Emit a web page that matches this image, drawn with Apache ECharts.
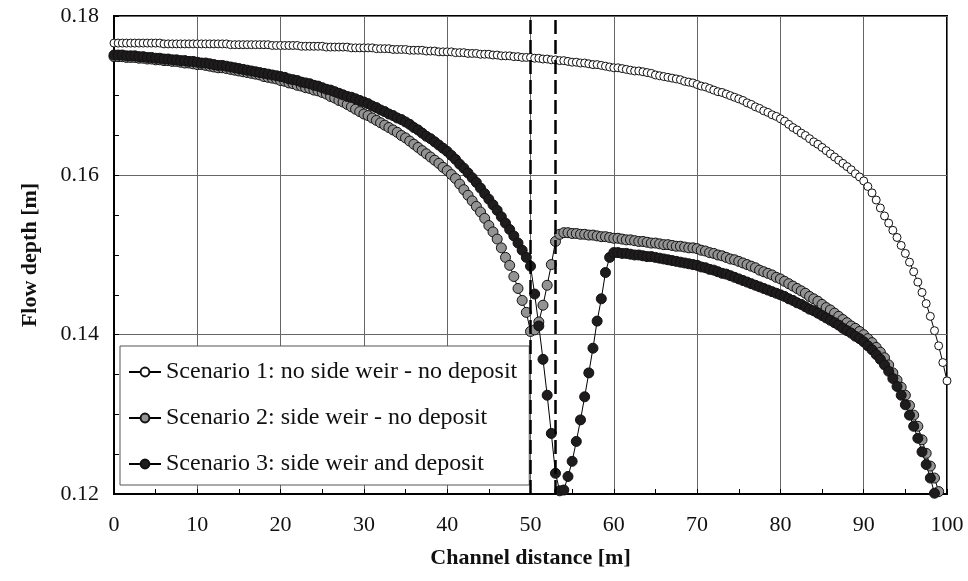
<!DOCTYPE html>
<html>
<head>
<meta charset="utf-8">
<title>Flow depth along the channel</title>
<script src="https://cdn.jsdelivr.net/npm/echarts@6.0.0/dist/echarts.min.js"></script>
<style>
  html, body { margin: 0; padding: 0; background: #fff; }
  #chart { width: 968px; height: 581px; }
</style>
</head>
<body>
<div id="chart"></div>
<script>
// sampling step along the channel [m], every series starts at 0 m
var step = 0.5;

var seriesNames = [
  'Scenario 1: no side weir - no deposit',
  'Scenario 2: side weir - no deposit',
  'Scenario 3: side weir and deposit'
];

// side weir limits [m]
var weirEdges = [50, 53];

var xTicks = [0, 10, 20, 30, 40, 50, 60, 70, 80, 90, 100];
var yTicks = [0.12, 0.14, 0.16, 0.18];

// scenario 1, 0 .. 100 m
var depthNoWeir = [
  0.1766,0.1766,0.1766,0.1766,0.1766,0.1766,0.1766,0.1766,0.1766,0.1766,0.1766,0.1766,0.1765,0.1765,0.1765,0.1765,0.1765,0.1765,0.1765,0.1765,
  0.1765,0.1765,0.1765,0.1765,0.1765,0.1765,0.1765,0.1765,0.1764,0.1764,0.1764,0.1764,0.1764,0.1764,0.1764,0.1764,0.1764,0.1764,0.1763,0.1763,
  0.1763,0.1763,0.1763,0.1763,0.1763,0.1762,0.1762,0.1762,0.1762,0.1762,0.1762,0.1761,0.1761,0.1761,0.1761,0.1761,0.1761,0.1760,0.1760,0.1760,
  0.1760,0.1760,0.1760,0.1759,0.1759,0.1759,0.1759,0.1758,0.1758,0.1758,0.1758,0.1757,0.1757,0.1757,0.1757,0.1756,0.1756,0.1756,0.1755,0.1755,
  0.1755,0.1755,0.1754,0.1754,0.1754,0.1753,0.1753,0.1753,0.1752,0.1752,0.1752,0.1751,0.1751,0.1750,0.1750,0.1750,0.1749,0.1749,0.1748,0.1748,
  0.1748,0.1747,0.1747,0.1746,0.1746,0.1745,0.1745,0.1744,0.1744,0.1743,0.1742,0.1742,0.1741,0.1741,0.1740,0.1739,0.1739,0.1738,0.1737,0.1736,
  0.1735,0.1735,0.1734,0.1733,0.1732,0.1731,0.1731,0.1730,0.1729,0.1728,0.1726,0.1725,0.1724,0.1723,0.1722,0.1721,0.1720,0.1718,0.1717,0.1716,
  0.1714,0.1712,0.1711,0.1709,0.1707,0.1705,0.1704,0.1702,0.1700,0.1698,0.1696,0.1694,0.1691,0.1689,0.1686,0.1684,0.1681,0.1679,0.1676,0.1674,
  0.1671,0.1668,0.1664,0.1660,0.1657,0.1653,0.1650,0.1646,0.1642,0.1639,0.1635,0.1631,0.1627,0.1623,0.1619,0.1615,0.1611,0.1607,0.1602,0.1598,
  0.1593,0.1586,0.1578,0.1569,0.1559,0.1549,0.1540,0.1531,0.1522,0.1512,0.1502,0.1491,0.1479,0.1466,0.1453,0.1439,0.1423,0.1405,0.1386,0.1365,
  0.1342
];

// scenario 2, 0 .. 99 m
var depthWeir = [
  0.1749,0.1749,0.1749,0.1748,0.1748,0.1748,0.1747,0.1747,0.1746,0.1746,0.1745,0.1745,0.1744,0.1744,0.1743,0.1743,0.1742,0.1741,0.1741,0.1740,
  0.1739,0.1739,0.1738,0.1737,0.1736,0.1735,0.1735,0.1734,0.1733,0.1732,0.1731,0.1730,0.1729,0.1728,0.1727,0.1726,0.1724,0.1723,0.1722,0.1721,
  0.1719,0.1718,0.1716,0.1715,0.1713,0.1712,0.1710,0.1709,0.1707,0.1706,0.1704,0.1702,0.1699,0.1697,0.1694,0.1692,0.1689,0.1686,0.1683,0.1680,
  0.1677,0.1675,0.1672,0.1669,0.1666,0.1663,0.1660,0.1657,0.1654,0.1650,0.1647,0.1643,0.1639,0.1635,0.1631,0.1627,0.1623,0.1619,0.1615,0.1610,
  0.1606,0.1601,0.1596,0.1589,0.1582,0.1575,0.1568,0.1561,0.1554,0.1546,0.1537,0.1529,0.1520,0.1509,0.1497,0.1487,0.1473,0.1458,0.1443,0.1428,
  0.1404,0.1406,0.1416,0.1437,0.1462,0.1488,0.1517,0.1526,0.1528,0.1528,0.1527,0.1527,0.1526,0.1526,0.1525,0.1525,0.1524,0.1523,0.1523,0.1522,
  0.1521,0.1521,0.1520,0.1519,0.1519,0.1518,0.1517,0.1517,0.1516,0.1515,0.1515,0.1514,0.1513,0.1513,0.1512,0.1511,0.1511,0.1510,0.1509,0.1509,
  0.1508,0.1506,0.1505,0.1503,0.1502,0.1500,0.1499,0.1497,0.1495,0.1494,0.1492,0.1490,0.1488,0.1486,0.1484,0.1481,0.1479,0.1477,0.1475,0.1472,
  0.1470,0.1467,0.1464,0.1461,0.1458,0.1455,0.1452,0.1448,0.1445,0.1442,0.1438,0.1434,0.1431,0.1427,0.1423,0.1419,0.1415,0.1411,0.1408,0.1404,
  0.1400,0.1395,0.1390,0.1384,0.1378,0.1371,0.1362,0.1352,0.1343,0.1334,0.1324,0.1311,0.1299,0.1285,0.1268,0.1251,0.1235,0.1220,0.1203
];

// scenario 3, 0 .. 98.5 m
var depthWeirDeposit = [
  0.1751,0.1751,0.1751,0.1750,0.1750,0.1750,0.1749,0.1749,0.1748,0.1748,0.1747,0.1747,0.1746,0.1746,0.1745,0.1745,0.1744,0.1744,0.1743,0.1743,
  0.1742,0.1741,0.1741,0.1740,0.1739,0.1738,0.1738,0.1737,0.1736,0.1735,0.1734,0.1733,0.1732,0.1731,0.1730,0.1729,0.1728,0.1727,0.1726,0.1725,
  0.1724,0.1723,0.1721,0.1720,0.1719,0.1717,0.1716,0.1715,0.1713,0.1712,0.1710,0.1708,0.1707,0.1705,0.1703,0.1701,0.1699,0.1698,0.1696,0.1694,
  0.1692,0.1690,0.1687,0.1685,0.1682,0.1680,0.1677,0.1675,0.1672,0.1670,0.1667,0.1664,0.1660,0.1657,0.1653,0.1649,0.1646,0.1642,0.1638,0.1634,
  0.1630,0.1625,0.1620,0.1614,0.1609,0.1603,0.1597,0.1591,0.1584,0.1577,0.1570,0.1563,0.1556,0.1548,0.1540,0.1532,0.1524,0.1515,0.1506,0.1497,
  0.1486,0.1451,0.1411,0.1369,0.1324,0.1276,0.1226,0.1204,0.1205,0.1222,0.1241,0.1266,0.1293,0.1322,0.1352,0.1383,0.1417,0.1445,0.1478,0.1497,
  0.1503,0.1503,0.1502,0.1502,0.1501,0.1500,0.1500,0.1499,0.1498,0.1498,0.1497,0.1496,0.1495,0.1494,0.1493,0.1492,0.1491,0.1490,0.1489,0.1488,
  0.1487,0.1485,0.1484,0.1482,0.1481,0.1479,0.1477,0.1476,0.1474,0.1472,0.1470,0.1468,0.1466,0.1464,0.1462,0.1460,0.1458,0.1456,0.1454,0.1452,
  0.1450,0.1448,0.1445,0.1443,0.1440,0.1438,0.1435,0.1432,0.1430,0.1427,0.1424,0.1421,0.1418,0.1415,0.1412,0.1408,0.1405,0.1402,0.1398,0.1395,
  0.1391,0.1386,0.1381,0.1375,0.1369,0.1362,0.1354,0.1345,0.1335,0.1324,0.1312,0.1299,0.1285,0.1270,0.1253,0.1237,0.1220,0.1201
];

var serif = 'Liberation Serif';

function withDistance(values) {
  return values.map(function (v, i) { return [i * step, v]; });
}

function scenario(name, values, fill, size) {
  return {
    name: name,
    type: 'line',
    data: withDistance(values),
    symbol: 'circle',
    symbolSize: size,
    showAllSymbol: true,
    lineStyle: { color: '#000', width: 1 },
    itemStyle: { color: fill, borderColor: '#111', borderWidth: 1 },
    emphasis: { disabled: true }
  };
}

var chart = echarts.init(document.getElementById('chart'));

var series = [
  scenario(seriesNames[0], depthNoWeir, '#fff', 8),
  scenario(seriesNames[1], depthWeir, '#939393', 10),
  scenario(seriesNames[2], depthWeirDeposit, '#1f1c1d', 10)
];

// dashed lines marking the side weir
series[0].markLine = {
  silent: true,
  symbol: 'none',
  label: { show: false },
  lineStyle: { color: '#000', width: 2.5, type: [14, 6] },
  data: weirEdges.map(function (x) { return { xAxis: x }; })
};

var option = {
  animation: false,
  backgroundColor: '#fff',
  grid: {
    left: 114,
    right: 21,
    top: 16,
    bottom: 87,
    show: true,
    borderColor: '#000',
    borderWidth: 2
  },
  legend: {
    data: seriesNames,
    orient: 'vertical',
    left: 120,
    top: 346,
    selectedMode: false,
    backgroundColor: '#fff',
    borderColor: '#555',
    borderWidth: 1,
    borderRadius: 0,
    padding: [14, 12, 9, 8],
    itemGap: 22,
    itemWidth: 32,
    itemHeight: 11,
    textStyle: { fontFamily: serif, fontSize: 24, color: '#111' }
  },
  xAxis: {
    type: 'value',
    min: xTicks[0],
    max: xTicks[xTicks.length - 1],
    interval: 10,
    name: 'Channel distance [m]',
    nameLocation: 'middle',
    nameGap: 53,
    nameTextStyle: { fontFamily: serif, fontSize: 22, fontWeight: 'bold', color: '#111' },
    axisLine: { show: true, lineStyle: { color: '#000', width: 2 } },
    axisTick: { show: true, inside: true, length: 5, lineStyle: { color: '#000' } },
    minorTick: { show: true, splitNumber: 2, length: 5, lineStyle: { color: '#000' } },
    axisLabel: { fontFamily: serif, fontSize: 22, color: '#111', margin: 20 },
    splitLine: { show: true, lineStyle: { color: '#666', width: 1 } }
  },
  yAxis: {
    type: 'value',
    min: yTicks[0],
    max: yTicks[yTicks.length - 1],
    interval: 0.02,
    name: 'Flow depth [m]',
    nameLocation: 'middle',
    nameGap: 73,
    nameTextStyle: { fontFamily: serif, fontSize: 22, fontWeight: 'bold', color: '#111' },
    axisLine: { show: true, lineStyle: { color: '#000', width: 2 } },
    axisTick: { show: true, inside: true, length: 5, lineStyle: { color: '#000' } },
    minorTick: { show: true, splitNumber: 4, length: 5, lineStyle: { color: '#000' } },
    axisLabel: {
      fontFamily: serif, fontSize: 22, color: '#111', margin: 15,
      formatter: function (v) { return v.toFixed(2); }
    },
    splitLine: { show: true, lineStyle: { color: '#666', width: 1 } }
  },
  series: series
};

chart.setOption(option);
</script>
</body>
</html>
